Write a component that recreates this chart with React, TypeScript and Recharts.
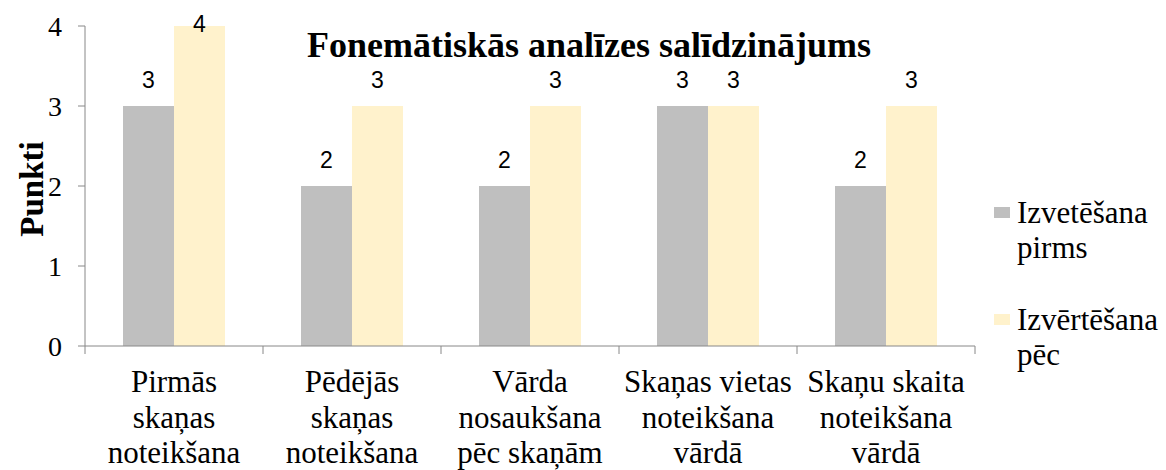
import { Bar, BarChart, LabelList, XAxis, YAxis } from "recharts";

const categories = [
  "Pirmās\nskaņas\nnoteikšana",
  "Pēdējās\nskaņas\nnoteikšana",
  "Vārda\nnosaukšana\npēc skaņām",
  "Skaņas vietas\nnoteikšana\nvārdā",
  "Skaņu skaita\nnoteikšana\nvārdā",
];
const before = [3, 2, 2, 3, 2];
const after = [4, 3, 3, 3, 3];
const yTicks = [0, 1, 2, 3, 4];

const seriesNames = ["Izvetēšana pirms", "Izvērtēšana pēc"];
const seriesColors = ["#bfbfbf", "#fff2cc"];

const data = categories.map((c, i) => ({ name: c, before: before[i], after: after[i] }));

const W = 1166;
const H = 470;
const M = { top: 26, right: 191, left: 0, bottom: 0 };
const Y_W = 85;
const BAND = (W - M.right - Y_W) / categories.length;
const SERIF = "Liberation Serif";
const SANS = "Liberation Sans";
const AXIS = "#888888";

function CategoryTick(props: any) {
  const { x, y, payload, index } = props;
  const lines = String(payload.value).split("\n");
  const half = BAND / 2;
  return (
    <g>
      <line x1={x - half} y1={y} x2={x - half} y2={y + 8} stroke={AXIS} />
      {index === categories.length - 1 && (
        <line x1={x + half} y1={y} x2={x + half} y2={y + 8} stroke={AXIS} />
      )}
      <text textAnchor="middle" style={{ fontFamily: SERIF }} fontSize={31} fill="#000">
        {lines.map((l, i) => (
          <tspan key={i} x={x} y={y + 46 + i * 35.5}>
            {l}
          </tspan>
        ))}
      </text>
    </g>
  );
}

// Excel pushes the top label down so it stays inside the chart
function ValueLabel(props: any) {
  const { x, y, width, value } = props;
  return (
    <text
      x={x + width / 2}
      y={Math.max(y - 18, 32)}
      textAnchor="middle"
      style={{ fontFamily: SANS }}
      fontSize={23}
      fill="#000"
    >
      {value}
    </text>
  );
}

function LegendBox() {
  return (
    <div
      style={{
        position: "absolute",
        left: 990,
        top: 195,
        fontFamily: SERIF,
        fontSize: 31,
        lineHeight: "35px",
        color: "#000",
      }}
    >
      {seriesNames.map((n, i) => {
        const words = n.split(" ");
        return (
          <div key={n} style={{ position: "relative", paddingLeft: 27, marginBottom: i === 0 ? 37 : 0 }}>
            <span
              style={{
                position: "absolute",
                left: 4,
                top: 12,
                width: 16,
                height: 11,
                background: seriesColors[i],
              }}
            />
            <div>{words[0]}</div>
            <div>{words.slice(1).join(" ")}</div>
          </div>
        );
      })}
    </div>
  );
}

export default function App() {
  return (
    <div style={{ position: "absolute", left: 0, top: 0, width: W, height: H, background: "#fff" }}>
      <BarChart width={W} height={H} data={data} margin={M} barCategoryGap={38} barGap={0}>
        <XAxis
          dataKey="name"
          interval={0}
          height={H - 346}
          tickSize={0}
          tickMargin={0}
          tickLine={false}
          axisLine={{ stroke: AXIS }}
          tick={<CategoryTick />}
        />
        <YAxis
          width={Y_W}
          domain={[0, 4]}
          ticks={yTicks}
          interval={0}
          tickSize={7}
          tickMargin={16}
          axisLine={{ stroke: AXIS }}
          tickLine={{ stroke: AXIS }}
          tick={{ fontFamily: SERIF, fontSize: 28, fill: "#000" }}
          label={{
            content: () => (
              <text
                transform="translate(43,189) rotate(-90)"
                textAnchor="middle"
                style={{ fontFamily: SERIF }}
                fontWeight="bold"
                fontSize={33}
                fill="#000"
              >
                Punkti
              </text>
            ),
          }}
        />
        <Bar dataKey="before" name={seriesNames[0]} fill={seriesColors[0]} isAnimationActive={false}>
          <LabelList dataKey="before" content={<ValueLabel />} />
        </Bar>
        <Bar dataKey="after" name={seriesNames[1]} fill={seriesColors[1]} isAnimationActive={false}>
          <LabelList dataKey="after" content={<ValueLabel />} />
        </Bar>
      </BarChart>
      <LegendBox />
      <div
        style={{
          position: "absolute",
          left: 589,
          top: 27,
          transform: "translateX(-50%)",
          whiteSpace: "nowrap",
          fontFamily: SERIF,
          fontWeight: "bold",
          fontSize: 36,
          lineHeight: "36px",
          color: "#000",
        }}
      >
        Fonemātiskās analīzes salīdzinājums
      </div>
    </div>
  );
}
